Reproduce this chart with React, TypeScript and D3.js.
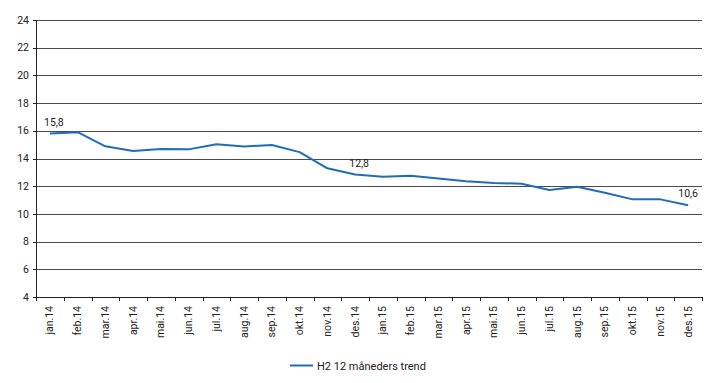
import React from "react";
import * as d3 from "d3";

const categories = [
  "jan.14", "feb.14", "mar.14", "apr.14", "mai.14", "jun.14",
  "jul.14", "aug.14", "sep.14", "okt.14", "nov.14", "des.14",
  "jan.15", "feb.15", "mar.15", "apr.15", "mai.15", "jun.15",
  "jul.15", "aug.15", "sep.15", "okt.15", "nov.15", "des.15",
];
const trendValues = [
  15.8, 15.9, 14.88, 14.54, 14.69, 14.66,
  15.03, 14.87, 14.97, 14.46, 13.29, 12.84,
  12.69, 12.75, 12.55, 12.36, 12.23, 12.18,
  11.73, 11.96, 11.53, 11.05, 11.05, 10.62,
];
const yTicks = [4, 6, 8, 10, 12, 14, 16, 18, 20, 22, 24];
const labeledPoints = [
  { index: 0, text: "15,8" },
  { index: 11, text: "12,8" },
  { index: 23, text: "10,6" },
];
const seriesName = "H2 12 måneders trend";

const W = 719;
const H = 383;
const left = 36;
const right = 702;
const top = 20;
const bottom = 297;
const FONT = "Roboto, 'Open Sans', sans-serif";
const LINE_COLOR = "#1f6db7";

export default function App() {
  const x = d3.scaleBand<string>().domain(categories).range([left, right]).padding(0);
  const y = d3.scaleLinear().domain([4, 24]).range([bottom, top]);
  const cx = (i: number) => (x(categories[i]) as number) + x.bandwidth() / 2;

  const line = d3
    .line<number>()
    .x((_, i) => cx(i))
    .y((d) => y(d))
    .curve(d3.curveLinear);

  const boundaries = d3.range(categories.length + 1).map((i) => left + i * x.bandwidth());

  return (
    <svg
      width={W}
      height={H}
      style={{ position: "absolute", left: 0, top: 0, background: "#fff" }}
      fontFamily={FONT}
    >
      {yTicks.map((t) => (
        <line
          key={"g" + t}
          x1={left}
          x2={right}
          y1={Math.round(y(t)) + 0.5}
          y2={Math.round(y(t)) + 0.5}
          stroke={t === 4 ? "#222" : "#4a4a4a"}
          strokeWidth={1}
        />
      ))}
      <line x1={left + 0.5} x2={left + 0.5} y1={top} y2={bottom + 0.5} stroke="#222" />
      {yTicks.map((t) => (
        <g key={"yt" + t}>
          <line
            x1={left - 3}
            x2={left}
            y1={Math.round(y(t)) + 0.5}
            y2={Math.round(y(t)) + 0.5}
            stroke="#222"
          />
          <text x={29} y={y(t)} dy="0.35em" textAnchor="end" fontSize={10.5} fill="#222">
            {t}
          </text>
        </g>
      ))}
      {boundaries.map((bx, i) => (
        <line
          key={"xt" + i}
          x1={Math.round(bx) + 0.5}
          x2={Math.round(bx) + 0.5}
          y1={bottom}
          y2={bottom + 4}
          stroke="#222"
        />
      ))}
      {categories.map((c, i) => (
        <text
          key={"xl" + c}
          transform={`translate(${cx(i) + 3.5},${bottom + 9}) rotate(-90)`}
          textAnchor="end"
          fontSize={10.5}
          fill="#222"
        >
          {c}
        </text>
      ))}
      <path d={line(trendValues) || ""} fill="none" stroke={LINE_COLOR} strokeWidth={2} strokeLinejoin="round" />
      {labeledPoints.map((p) => (
        <text
          key={"lab" + p.index}
          x={cx(p.index) + (p.index === 23 ? 0 : 4)}
          y={y(trendValues[p.index]) - 8}
          textAnchor="middle"
          fontSize={10.5}
          fill="#222"
        >
          {p.text}
        </text>
      ))}
      <line x1={290} x2={313} y1={365.5} y2={365.5} stroke={LINE_COLOR} strokeWidth={2} />
      <text x={317} y={369.5} fontSize={11} fill="#222">
        {seriesName}
      </text>
    </svg>
  );
}
